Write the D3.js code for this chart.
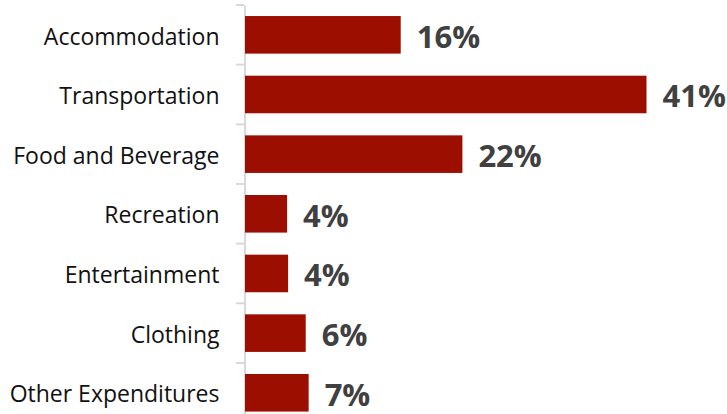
<!DOCTYPE html>
<html>
<head>
<meta charset="utf-8">
<script src="https://cdn.jsdelivr.net/npm/d3@7"></script>
<style>
  html, body { margin: 0; padding: 0; background: #ffffff; }
  svg { display: block; }
</style>
</head>
<body>
<div id="chart"></div>
<script>
const categories = ['Accommodation', 'Transportation', 'Food and Beverage', 'Recreation',
                    'Entertainment', 'Clothing', 'Other Expenditures'];
const shares = [15.9, 41.0, 22.2, 4.3, 4.4, 6.2, 6.5];
const shareLabels = ['16%', '41%', '22%', '4%', '4%', '6%', '7%'];

const width = 727, height = 414;
const left = 245;

const svg = d3.select('#chart').append('svg')
  .attr('width', width)
  .attr('height', height);

const x = d3.scaleLinear().domain([0, 41]).range([left, left + 401.5]);
const y = d3.scaleBand().domain(categories).range([5, 422.6]).paddingInner(0.37).paddingOuter(0.185);

// category axis
const yAxis = svg.append('g')
  .attr('transform', `translate(${left - 0.5},0)`)
  .call(d3.axisLeft(y).tickSize(0).tickPadding(25));
yAxis.select('.domain').attr('stroke', '#d9d9d9').attr('stroke-width', 2);
yAxis.selectAll('text')
  .attr('font-family', "'Open Sans', sans-serif")
  .attr('font-size', '23px')
  .attr('dy', '0.42em')
  .attr('fill', '#111111');

// band boundary ticks
const step = y.step();
const bounds = d3.range(categories.length + 1).map(i => 5 + i * step);
svg.append('g').selectAll('line')
  .data(bounds)
  .join('line')
  .attr('x1', left - 9).attr('x2', left - 1)
  .attr('y1', d => d).attr('y2', d => d)
  .attr('stroke', '#d9d9d9')
  .attr('stroke-width', 2);

// bars
svg.append('g').selectAll('rect')
  .data(categories)
  .join('rect')
  .attr('x', x(0))
  .attr('y', d => y(d))
  .attr('width', (d, i) => x(shares[i]) - x(0))
  .attr('height', y.bandwidth())
  .attr('fill', '#9c0e00');

// value labels
svg.append('g').selectAll('text')
  .data(categories)
  .join('text')
  .attr('x', (d, i) => x(shares[i]) + 16)
  .attr('y', d => y(d) + y.bandwidth() / 2 + 2)
  .attr('dy', '0.35em')
  .attr('font-family', "'Open Sans', sans-serif")
  .attr('font-weight', 'bold')
  .attr('font-size', '31px')
  .attr('fill', '#404040')
  .text((d, i) => shareLabels[i]);
</script>
</body>
</html>
